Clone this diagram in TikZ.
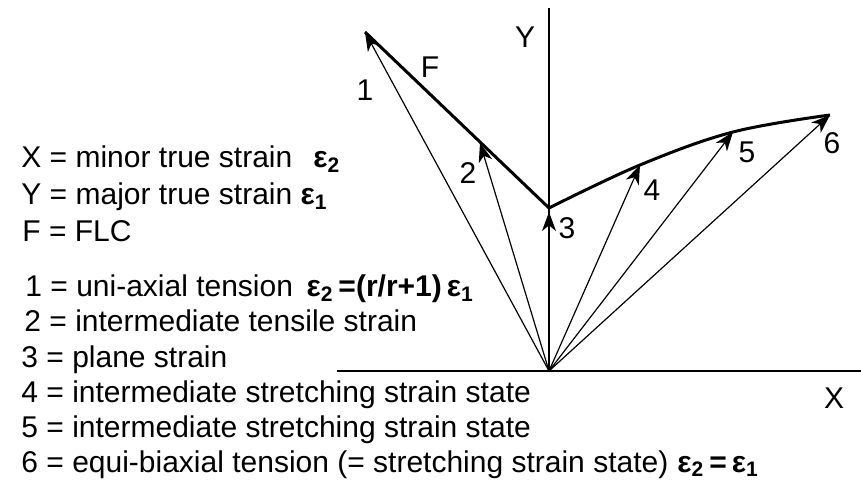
\documentclass[tikz,border=0pt]{standalone}
\usepackage{fontspec}
\setmainfont{Liberation Sans}
\usepackage{tikz}
\usetikzlibrary{arrows.meta}

\begin{document}
\begin{tikzpicture}[x=0.5pt, y=-0.5pt,
        every node/.style={font=\fontsize{15}{18}\selectfont, inner sep=0pt},
        axis/.style={line width=0.7pt},
        vec/.style={line width=0.6pt, -{Stealth[length=9.5pt, width=7pt, inset=2.8pt]}},
        flc/.style={line width=1.5pt, line join=miter},
        legend/.style={anchor=base west}]
        \useasboundingbox (0,0) rectangle (861,480);

        \coordinate (o) at (549,371);
        \coordinate (xl) at (337,371);
        \coordinate (xr) at (861,371);
        \coordinate (yt) at (549,8);
        \coordinate (p1) at (365,32);
        \coordinate (p2) at (480,143);
        \coordinate (p3) at (549,208);
        \coordinate (p4) at (640,165);
        \coordinate (p5) at (733,132);
        \coordinate (p6) at (830,115);

        % axes
        \draw[axis] (xl) -- (xr);
        \draw[axis] (o) -- (yt);
        \node (ylab) at (525,37) {Y};
        \node (xlab) at (834,398) {X};

        % forming limit curve
        \draw[flc] (p1) -- plot[smooth, tension=0.6] coordinates {(p3) (p4) (p5) (p6)};
        \node (flab) at (430,67) {F};

        % strain paths
        \foreach \p in {p1,p2,p4,p5,p6}
            \draw[vec] (o) -- (\p);
        \draw[vec, shorten >=2pt] (o) -- (p3);

        \node (n1) at (365,90) {1};
        \node (n2) at (468,173) {2};
        \node (n3) at (567,228) {3};
        \node (n4) at (652,190) {4};
        \node (n5) at (747,152) {5};
        \node (n6) at (832,143) {6};

        % legend
        \node[legend] (lx) at (21,168) {X = minor true strain\hspace{0.7em}\textbf{ε\textsubscript{2}}};
        \node[legend] (ly) at (21,205) {Y = major true strain \textbf{ε\textsubscript{1}}};
        \node[legend] (lf) at (22,242) {F = FLC};
        \node[legend] (l1) at (25,297) {1 = uni-axial tension\hspace{0.45em}\textbf{ε\textsubscript{2}\,=(r/r+1)\,ε\textsubscript{1}}};
        \node[legend] (l2) at (24,332) {2 = intermediate tensile strain};
        \node[legend] (l3) at (21,367) {3 = plane strain};
        \node[legend] (l4) at (21,402) {4 = intermediate stretching strain state};
        \node[legend] (l5) at (21,437) {5 = intermediate stretching strain state};
        \node[legend] (l6) at (21,472) {6 = equi-biaxial tension (= stretching strain state)\hspace{0.3em}\textbf{ε\textsubscript{2}\,=\,ε\textsubscript{1}}};
    \end{tikzpicture}
\end{document}
